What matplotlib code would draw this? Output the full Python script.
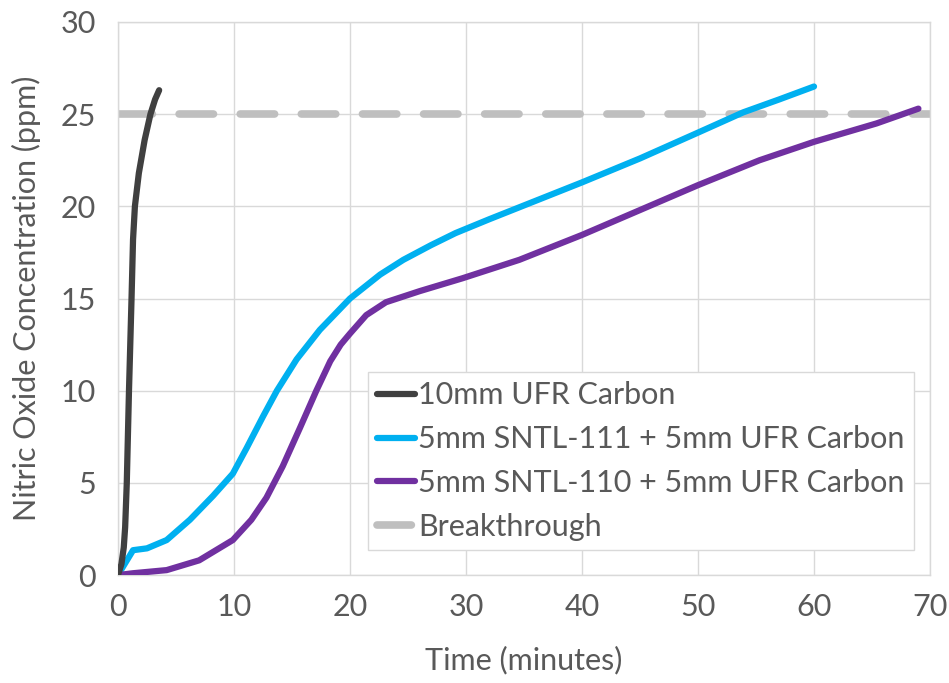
import matplotlib
matplotlib.use("Agg")
import matplotlib.pyplot as plt

# ---- data ----
black_t = [0, 0.3, 0.5, 0.62, 0.76, 0.95, 1.17, 1.3, 1.46, 1.8, 2.3, 2.8, 3.2, 3.55]
black_y = [0, 0.6, 1.5, 2.6, 5.0, 10.0, 15.0, 18.2, 20.0, 21.8, 23.6, 25.0, 25.8, 26.3]

cyan_t = [0, 1.3, 2.5, 4.2, 6.2, 8.2, 9.9, 11.1, 12.5, 13.7, 15.4, 17.4, 20.0, 22.6,
          24.6, 27.0, 29.1, 32.0, 35.2, 40.0, 45.0, 50.0, 53.9, 57.0, 60.0]
cyan_y = [0, 1.35, 1.45, 1.9, 3.0, 4.3, 5.5, 6.9, 8.6, 10.0, 11.7, 13.3, 15.0, 16.3,
          17.1, 17.9, 18.55, 19.3, 20.1, 21.3, 22.6, 24.0, 25.1, 25.8, 26.5]

purple_t = [0, 1.3, 4.2, 7.0, 9.9, 11.5, 12.8, 14.2, 15.7, 17.1, 18.3, 19.2, 20.0, 21.4,
            23.1, 26.0, 29.7, 34.6, 40.0, 45.0, 50.0, 55.3, 60.0, 65.4, 69.0]
purple_y = [0, 0.1, 0.27, 0.8, 1.9, 3.0, 4.2, 5.9, 8.0, 10.0, 11.6, 12.5, 13.1, 14.1,
            14.8, 15.4, 16.1, 17.1, 18.45, 19.8, 21.15, 22.5, 23.5, 24.5, 25.3]

breakthrough = 25
x_ticks = [0, 10, 20, 30, 40, 50, 60, 70]
y_ticks = [0, 5, 10, 15, 20, 25, 30]
labels = ["10mm UFR Carbon", "5mm SNTL-111 + 5mm UFR Carbon",
          "5mm SNTL-110 + 5mm UFR Carbon", "Breakthrough"]

# ---- style ----
plt.rcParams['font.family'] = ['Lato', 'DejaVu Sans']
txt = '#595959'
grid_c = '#d9d9d9'

fig = plt.figure(figsize=(9.49, 6.83), dpi=100)
ax = fig.add_axes([0.1243, 0.158, 0.8557, 0.8098])

ax.plot(black_t, black_y, color='#404040', lw=4.5, solid_capstyle='round', label=labels[0], zorder=4)
ax.plot(cyan_t, cyan_y, color='#00b0f0', lw=4.5, solid_capstyle='round', label=labels[1], zorder=3)
ax.plot(purple_t, purple_y, color='#7030a0', lw=4.5, solid_capstyle='round', label=labels[2], zorder=3)
ax.axhline(breakthrough, color='#bfbfbf', lw=5.5, dashes=(4.5, 3.5), dash_capstyle='round',
           label=labels[3], zorder=2)

ax.set_xlim(0, 70)
ax.set_ylim(0, 30)
ax.set_xticks(x_ticks)
ax.set_yticks(y_ticks)
ax.grid(True, color=grid_c, lw=1)
ax.set_axisbelow(True)
for s in ax.spines.values():
    s.set_color(grid_c)
    s.set_linewidth(1)
ax.tick_params(length=0, labelsize=22, colors=txt, pad=13)
ax.tick_params(axis='y', pad=16)

ax.set_xlabel('Time (minutes)', fontsize=22, color=txt, labelpad=18)
ax.set_ylabel('Nitric Oxide Concentration (ppm)', fontsize=22, color=txt, labelpad=14)

leg = ax.legend(loc='lower left', bbox_to_anchor=(0.308, 0.045), fontsize=22,
                handlelength=1.25, handletextpad=0.1, labelspacing=0.52,
                borderpad=0.3, borderaxespad=0, frameon=True, fancybox=False,
                edgecolor=grid_c, framealpha=1)
for t in leg.get_texts():
    t.set_color(txt)

fig.savefig('out.png', dpi=100)
